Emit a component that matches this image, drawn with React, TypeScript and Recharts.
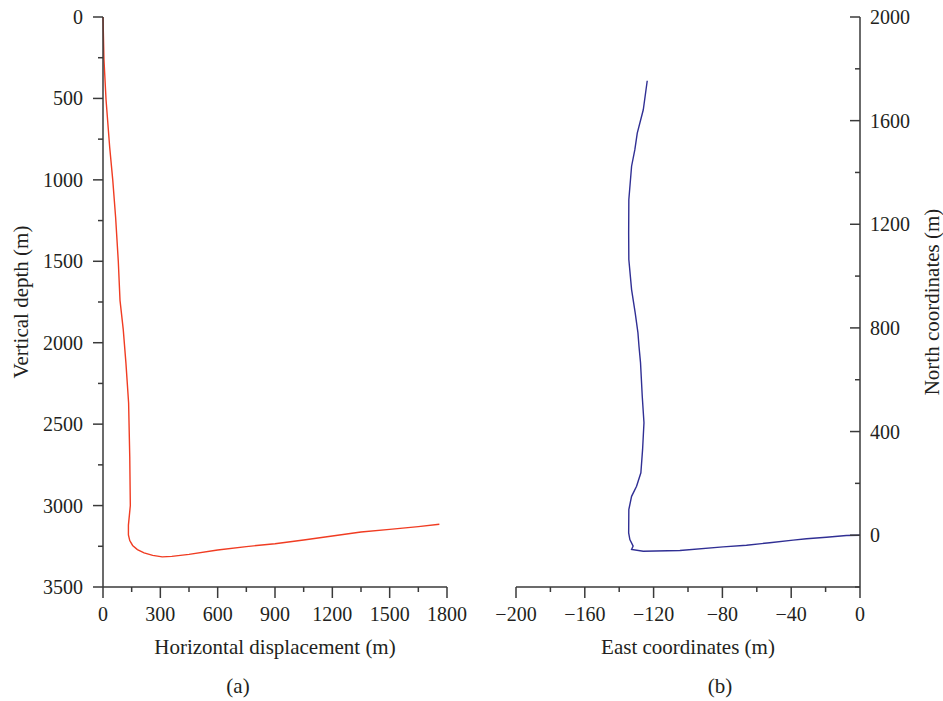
import React from 'react';
import { LineChart, Line, XAxis, YAxis } from 'recharts';

// (a) well profile: horizontal displacement vs vertical depth, metres
const displacement = [0, 5, 16, 35, 51, 66, 80, 89, 106, 120, 134, 140, 143, 138, 133, 133, 140, 155, 180, 215, 260, 310, 360, 450, 600, 750, 900, 1050, 1200, 1350, 1500, 1650, 1760];
const depth = [0, 260, 510, 800, 1000, 1230, 1500, 1740, 1920, 2125, 2370, 2700, 3000, 3060, 3120, 3180, 3215, 3245, 3270, 3290, 3306, 3315, 3312, 3300, 3273, 3252, 3234, 3211, 3187, 3162, 3146, 3129, 3115];

// (b) plan view: east vs north coordinates, metres
const east = [-123.7, -126, -129.5, -130.9, -132.8, -134.4, -134.5, -134.4, -132.8, -130.7, -129.1, -128.5, -127.6, -126.6, -125.6, -126.4, -127.4, -129.9, -132.8, -134.4, -134.5, -133.8, -131.9, -132.8, -126, -104.7, -79.6, -66, -52.5, -38.9, -31.1, -19.5, -7.9, 0];
const north = [1754, 1642, 1552, 1488, 1424, 1295, 1167, 1064, 948, 858, 781, 729, 665, 536, 434, 331, 241, 189, 150, 99, 9, -17, -42, -55, -62, -59, -45, -39, -29, -19, -14, -8, -1, 0];

// tick values; every other one is a minor (unlabelled) tick
const displacementTicks = [0, 150, 300, 450, 600, 750, 900, 1050, 1200, 1350, 1500, 1650, 1800];
const depthTicks = [0, 250, 500, 750, 1000, 1250, 1500, 1750, 2000, 2250, 2500, 2750, 3000, 3250, 3500];
const eastTicks = [-200, -180, -160, -140, -120, -100, -80, -60, -40, -20, 0];
const northTicks = [-200, 0, 200, 400, 600, 800, 1000, 1200, 1400, 1600, 1800, 2000];

const profileData = displacement.map((x, i) => ({ x, y: depth[i] }));
const planData = east.map((x, i) => ({ x, y: north[i] }));

const AXIS = '#3a3a3a';
const TEXT = '#231f20';
const FONT = '"Liberation Serif", "Times New Roman", serif';

const fmt = (v: number) => (v < 0 ? `\u2212${Math.abs(v)}` : `${v}`);

const bottomTick = (ticks: number[]) => (props: any) => {
  const { x, y, payload } = props;
  const major = ticks.indexOf(payload.value) % 2 === 0;
  return (
    <g>
      <line x1={x} x2={x} y1={y} y2={y + (major ? 11 : 5)} stroke={AXIS} strokeWidth={1.5} />
      {major && (
        <text x={x} y={y + 34} textAnchor="middle" fill={TEXT} fontSize={20} fontFamily={FONT}>
          {fmt(payload.value)}
        </text>
      )}
    </g>
  );
};

const leftTick = (ticks: number[]) => (props: any) => {
  const { x, y, payload } = props;
  const major = ticks.indexOf(payload.value) % 2 === 0;
  return (
    <g>
      <line x1={x} x2={x - (major ? 10 : 5)} y1={y} y2={y} stroke={AXIS} strokeWidth={1.5} />
      {major && (
        <text x={x - 20} y={y + 7} textAnchor="end" fill={TEXT} fontSize={20} fontFamily={FONT}>
          {fmt(payload.value)}
        </text>
      )}
    </g>
  );
};

// right-hand axis: ticks point inward, 0 is a major tick
const rightTick = (props: any) => {
  const { x, y, payload } = props;
  const major = payload.value % 400 === 0;
  return (
    <g>
      <line x1={x} x2={x - (major ? 10 : 5)} y1={y} y2={y} stroke={AXIS} strokeWidth={1.5} />
      {major && (
        <text x={x + 10} y={y + 7} textAnchor="start" fill={TEXT} fontSize={20} fontFamily={FONT}>
          {fmt(payload.value)}
        </text>
      )}
    </g>
  );
};

const bottomTitle = (title: string, caption: string, captionX: number) => (props: any) => {
  const { x, y, width } = props.viewBox;
  return (
    <g fill={TEXT} fontFamily={FONT} fontSize={21}>
      <text x={x + width / 2} y={y + 67} textAnchor="middle">{title}</text>
      <text x={captionX} y={y + 106} textAnchor="middle">{caption}</text>
    </g>
  );
};

const sideTitle = (title: string, dx: number) => (props: any) => {
  const { x, y, height } = props.viewBox;
  const cx = x + dx;
  const cy = y + height / 2;
  return (
    <text
      x={cx}
      y={cy}
      transform={`rotate(-90, ${cx}, ${cy})`}
      textAnchor="middle"
      dominantBaseline="central"
      fill={TEXT}
      fontFamily={FONT}
      fontSize={21}
    >
      {title}
    </text>
  );
};

export default function App() {
  return (
    <div style={{ position: 'absolute', left: 0, top: 0, width: 943, height: 701, background: '#fff' }}>
      <div style={{ position: 'absolute', left: 0, top: 0 }}>
        <LineChart width={470} height={701} data={profileData} margin={{ top: 17, right: 23, bottom: 74, left: 0 }}>
          <XAxis
            type="number"
            dataKey="x"
            domain={[0, 1800]}
            ticks={displacementTicks}
            interval={0}
            height={40}
            tickSize={0}
            tickMargin={0}
            tickLine={false}
            axisLine={{ stroke: AXIS, strokeWidth: 1.5 }}
            tick={bottomTick(displacementTicks)}
            label={{ content: bottomTitle('Horizontal displacement (m)', '(a)', 238) }}
          />
          <YAxis
            type="number"
            dataKey="y"
            domain={[0, 3500]}
            reversed
            ticks={depthTicks}
            interval={0}
            width={103}
            tickSize={0}
            tickMargin={0}
            tickLine={false}
            axisLine={{ stroke: AXIS, strokeWidth: 1.5 }}
            tick={leftTick(depthTicks)}
            label={{ content: sideTitle('Vertical depth (m)', 21) }}
          />
          <Line type="linear" dataKey="y" stroke="#f03c22" strokeWidth={1.4} dot={false} isAnimationActive={false} />
        </LineChart>
      </div>
      <div style={{ position: 'absolute', left: 470, top: 0 }}>
        <LineChart width={473} height={701} data={planData} margin={{ top: 17, right: 0, bottom: 74, left: 46 }}>
          <XAxis
            type="number"
            dataKey="x"
            domain={[-200, 0]}
            ticks={eastTicks}
            interval={0}
            height={40}
            tickSize={0}
            tickMargin={0}
            tickLine={false}
            axisLine={{ stroke: AXIS, strokeWidth: 1.5 }}
            tick={bottomTick(eastTicks)}
            label={{ content: bottomTitle('East coordinates (m)', '(b)', 250) }}
          />
          <YAxis
            type="number"
            dataKey="y"
            orientation="right"
            domain={[-200, 2000]}
            ticks={northTicks}
            interval={0}
            width={83}
            tickSize={0}
            tickMargin={0}
            tickLine={false}
            axisLine={{ stroke: AXIS, strokeWidth: 1.5 }}
            tick={rightTick}
            label={{ content: sideTitle('North coordinates (m)', 72) }}
          />
          <Line type="linear" dataKey="y" stroke="#302f94" strokeWidth={1.4} dot={false} isAnimationActive={false} />
        </LineChart>
      </div>
    </div>
  );
}
